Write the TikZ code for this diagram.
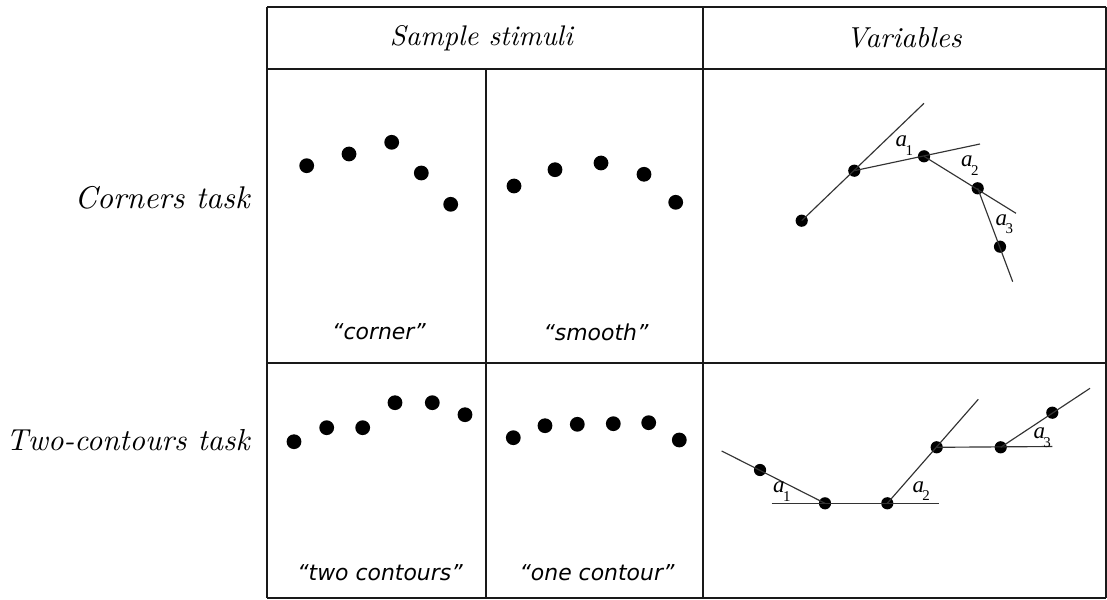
\documentclass[tikz,border=0pt]{standalone}
\usepackage{fontspec}
\newfontfamily\quotefont{DejaVu Sans}
\newfontfamily\timesfont{Liberation Serif}
\usetikzlibrary{calc}

\newcommand{\alabel}[1]{\textit{a}\kern-1.5bp\raisebox{-8.5bp}{\fontsize{15}{15}\selectfont #1}}

\begin{document}
\begin{tikzpicture}[x=1bp,y=-1bp,
  grid/.style={line width=1.6bp, black!90},
  ray/.style={line width=1.15bp, black!80},
  stim/.style={circle, fill=black, draw=none, inner sep=0pt, minimum size=14.8bp},
  vdot/.style={circle, fill=black, draw=none, inner sep=0pt, minimum size=12.2bp},
  bigtext/.style={inner sep=0pt},
  quote/.style={font=\quotefont\itshape\fontsize{22}{26}\selectfont, inner sep=0pt},
  alab/.style={font=\timesfont\fontsize{23}{23}\selectfont, inner sep=0pt, anchor=base west}]

\path[use as bounding box] (0,0) rectangle (1107,600);

% table frame
\coordinate (TL) at (267,7);   \coordinate (TR) at (1106,7);
\coordinate (HL) at (267,69);  \coordinate (HR) at (1106,69);
\coordinate (ML) at (267,363); \coordinate (MR) at (1106,363);
\coordinate (BL) at (267,598); \coordinate (BR) at (1106,598);
\coordinate (CT) at (703,7);   \coordinate (CB) at (703,598);
\coordinate (ST) at (486,69);  \coordinate (SB) at (486,598);
\draw[grid] (TL) -- (TR);
\draw[grid] (HL) -- (HR);
\draw[grid] (ML) -- (MR);
\draw[grid] (BL) -- (BR);
\draw[grid] (TL) -- (BL);
\draw[grid] (CT) -- (CB);
\draw[grid] (TR) -- (BR);
\draw[grid] (ST) -- (SB);

% headers and row labels
\node[bigtext] (hstim) at (482,38) {\scalebox{2.85}{\textit{Sample stimuli}}};
\node[bigtext] (hvar) at (904,38) {\scalebox{2.9}{\textit{Variables}}};
\node[bigtext, anchor=east] (rcorn) at (251,198) {\scalebox{3.15}{\textit{Corners task}}};
\node[bigtext, anchor=east] (rtwo) at (251,440) {\scalebox{3.05}{\textit{Two-contours task}}};

% stimulus captions
\node[quote] (qcorner) at (379,332) {“corner”};
\node[quote] (qsmooth) at (596,332) {“smooth”};
\node[quote] (qtwo) at (380,573) {“two contours”};
\node[quote] (qone) at (597,573) {“one contour”};

% corners task stimuli
\node[stim] (c1) at (306.7,165.7) {};
\node[stim] (c2) at (349,154) {};
\node[stim] (c3) at (391.7,142.3) {};
\node[stim] (c4) at (421.3,173) {};
\node[stim] (c5) at (450.7,204.3) {};
\node[stim] (s1) at (514,186) {};
\node[stim] (s2) at (555,169.7) {};
\node[stim] (s3) at (601,163) {};
\node[stim] (s4) at (644,174.3) {};
\node[stim] (s5) at (675.7,202.3) {};

% two-contours task stimuli
\node[stim] (t1) at (294,441.7) {};
\node[stim] (t2) at (326.7,427.7) {};
\node[stim] (t3) at (362.7,427.7) {};
\node[stim] (t4) at (395,402.7) {};
\node[stim] (t5) at (432.3,402.7) {};
\node[stim] (t6) at (465,414.7) {};
\node[stim] (o1) at (513.3,437.7) {};
\node[stim] (o2) at (545,425.7) {};
\node[stim] (o3) at (577.3,424.3) {};
\node[stim] (o4) at (613.3,423.7) {};
\node[stim] (o5) at (648.7,422.7) {};
\node[stim] (o6) at (679.3,440) {};

% corners task variables: turning angles between successive segments
\node[vdot] (p1) at (801.7,220.7) {};
\node[vdot] (p2) at (854.3,170.7) {};
\node[vdot] (p3) at (924,156.3) {};
\node[vdot] (p4) at (977.7,188.3) {};
\node[vdot] (p5) at (1000,246.7) {};
\coordinate (e1) at (924,103.3);
\coordinate (e2) at (980,144);
\coordinate (e3) at (1016,213.3);
\coordinate (e4) at (1012.7,281.7);
\draw[ray] (p1.center) -- (e1);
\draw[ray] (p2.center) -- (e2);
\draw[ray] (p3.center) -- (e3);
\draw[ray] (p4.center) -- (e4);
\node[alab] (ca1) at (895.5,147) {\alabel{1}};
\node[alab] (ca2) at (961,167) {\alabel{2}};
\node[alab] (ca3) at (995.5,225.3) {\alabel{3}};

% two-contours task variables: angles against the horizontal
\node[vdot] (q1) at (760,470) {};
\node[vdot] (q2) at (825,503.3) {};
\node[vdot] (q3) at (887.3,503.3) {};
\node[vdot] (q4) at (936.7,447.3) {};
\node[vdot] (q5) at (1000.7,447.3) {};
\node[vdot] (q6) at (1052.3,412.7) {};
\coordinate (f0) at (721.7,451);
\coordinate (h1a) at (771.7,503.3);
\coordinate (h1b) at (939.3,503.3);
\coordinate (f3) at (978.3,399.3);
\coordinate (h2b) at (1052.3,446.5);
\coordinate (f5) at (1090,388.3);
\draw[ray] (f0) -- (q2.center);
\draw[ray] (h1a) -- (h1b);
\draw[ray] (q3.center) -- (f3);
\draw[ray] (q4.center) -- (h2b);
\draw[ray] (q5.center) -- (f5);
\node[alab] (ta1) at (773,492.6) {\alabel{1}};
\node[alab] (ta2) at (912.3,492) {\alabel{2}};
\node[alab] (ta3) at (1033.3,438.6) {\alabel{3}};

\end{tikzpicture}
\end{document}
